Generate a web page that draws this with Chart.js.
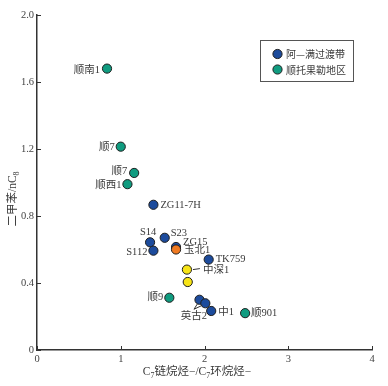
<!DOCTYPE html>
<html><head><meta charset="utf-8">
<script src="https://cdn.jsdelivr.net/npm/chart.js@4/dist/chart.umd.min.js"></script>
<style>html,body{margin:0;padding:0;background:#fff}#wrap{width:388px;height:386px}</style>
</head><body><div id="wrap"><canvas id="c" width="388" height="386"></canvas></div>
<script>
// ---- data ----
const seriesNames = ['阿—满过渡带', '顺托果勒地区', '玉北', '中深'];
const blueX = [1.39, 1.35, 1.525, 1.39, 1.66, 2.05, 1.94, 2.01, 2.08];
const blueY = [0.867, 0.643, 0.67, 0.593, 0.615, 0.54, 0.30, 0.279, 0.233];
const blueLabels = ['ZG11-7H', 'S14', 'S23', 'S112', 'ZG15', 'TK759', '', '', '中1'];
const tealX = [0.836, 1.0, 1.16, 1.08, 1.58, 2.485];
const tealY = [1.68, 1.214, 1.057, 0.99, 0.312, 0.22];
const tealLabels = ['顺南1', '顺7', '顺7', '顺西1', '顺9', '顺901'];
const orangeX = [1.66];
const orangeY = [0.60];
const orangeLabels = ['玉北1'];
const yellowX = [1.79, 1.80];
const yellowY = [0.48, 0.406];
const yellowLabels = ['中深1', ''];
const xTicks = [0, 1, 2, 3, 4];
const yTicks = [0, 0.4, 0.8, 1.2, 1.6, 2.0];
const yTickLabels = ['0', '0.4', '0.8', '1.2', '1.6', '2.0'];
const groupLabel = '英古2'; // shared label for blue points 7 and 8

// ---- label layout (pixel offsets, align) ----
const blueLayout = [[7,0,'left'],[-2,-10,'center'],[6,-5,'left'],[-6,2,'right'],[7,-5,'left'],[7,0,'left'],null,null,[7,1.5,'left']];
const tealLayout = [[-7,2,'right'],[-6,1,'right'],[-7,-2,'right'],[-6,1.5,'right'],[-6,0,'right'],[6,0,'left']];
const orangeLayout = [[8,1,'left']];
const yellowLayout = [[16,1,'left'], null];

const pts = (xs, ys) => xs.map((x, i) => ({x, y: ys[i]}));
const FONT = "'Liberation Serif','Noto Sans CJK SC',serif";
const TXT = '#3a3a3a';

const datasets = [
  {label: seriesNames[0], data: pts(blueX, blueY), backgroundColor: '#1c4b9c', labels: blueLabels, layout: blueLayout},
  {label: seriesNames[1], data: pts(tealX, tealY), backgroundColor: '#109c80', labels: tealLabels, layout: tealLayout},
  {label: seriesNames[2], data: pts(orangeX, orangeY), backgroundColor: '#f07a22', labels: orangeLabels, layout: orangeLayout},
  {label: seriesNames[3], data: pts(yellowX, yellowY), backgroundColor: '#f7e416', labels: yellowLabels, layout: yellowLayout}
].map(d => Object.assign(d, {pointRadius: 4.6, pointHoverRadius: 4.6, borderColor: '#1e1e1e', borderWidth: 1}));
// draw order: orange on top of blue
datasets.forEach((d, i) => d.order = [3, 2, 1, 0][i]);

const annot = {
  id: 'annot',
  afterDatasetsDraw(chart) {
    const ctx = chart.ctx;
    const xs = chart.scales.x, ys = chart.scales.y;
    ctx.save();
    // inner tick marks
    ctx.strokeStyle = '#333'; ctx.lineWidth = 1;
    xTicks.forEach(v => { const px = Math.round(xs.getPixelForValue(v)) + 0.5;
      ctx.beginPath(); ctx.moveTo(px, ys.bottom); ctx.lineTo(px, ys.bottom - 4); ctx.stroke(); });
    yTicks.forEach(v => { const py = Math.round(ys.getPixelForValue(v)) + 0.5;
      ctx.beginPath(); ctx.moveTo(xs.left, py); ctx.lineTo(xs.left + 4, py); ctx.stroke(); });
    // point labels
    ctx.font = '10.5px ' + FONT; ctx.fillStyle = TXT; ctx.textBaseline = 'middle';
    chart.data.datasets.forEach((ds, di) => {
      const meta = chart.getDatasetMeta(di);
      ds.labels.forEach((t, i) => {
        const L = ds.layout[i]; if (!t || !L) return;
        const el = meta.data[i];
        ctx.textAlign = L[2];
        ctx.fillText(t, el.x + L[0], el.y + L[1]);
      });
    });
    // leader for 中深1
    const y0 = chart.getDatasetMeta(3).data[0];
    ctx.strokeStyle = '#333'; ctx.lineWidth = 1;
    ctx.beginPath(); ctx.moveTo(y0.x + 6, y0.y); ctx.lineTo(y0.x + 13, y0.y - 1); ctx.stroke();
    // 英古2 group label with two leader lines
    const bm = chart.getDatasetMeta(0).data;
    const a = bm[6], b = bm[7];
    const lx = a.x - 5.5, ly = a.y + 16.5;
    ctx.beginPath(); ctx.moveTo(lx, ly - 7); ctx.lineTo(a.x - 2, a.y + 4);
    ctx.moveTo(lx, ly - 7); ctx.lineTo(b.x - 3, b.y + 2); ctx.stroke();
    ctx.textAlign = 'center'; ctx.fillText(groupLabel, lx, ly);
    // legend box
    const bx = 260.5, by = 40.5, bw = 93, bh = 41;
    ctx.strokeStyle = '#555'; ctx.lineWidth = 1; ctx.strokeRect(bx, by, bw, bh);
    [0, 1].forEach(k => {
      const ds = chart.data.datasets[k];
      const cy = by + 13.5 + k * 15.5;
      ctx.beginPath(); ctx.arc(bx + 17, cy, 4.6, 0, Math.PI * 2);
      ctx.fillStyle = ds.backgroundColor; ctx.fill(); ctx.strokeStyle = '#1e1e1e'; ctx.stroke();
      ctx.fillStyle = TXT; ctx.textAlign = 'left'; ctx.font = "10px 'Noto Sans CJK SC',serif";
      ctx.fillText(ds.label, bx + 25.5, cy + 0.5);
    });
    // axis titles with subscripts
    const drawSub = (parts, x, y, align) => {
      let w = 0;
      parts.forEach(p => { ctx.font = (p[1] ? '8px ' : '11.5px ') + FONT; w += ctx.measureText(p[0]).width; });
      let cx = align === 'center' ? x - w / 2 : x;
      ctx.textAlign = 'left';
      parts.forEach(p => { ctx.font = (p[1] ? '8px ' : '11.5px ') + FONT;
        ctx.fillText(p[0], cx, y + (p[1] ? 3.5 : 0)); cx += ctx.measureText(p[0]).width; });
    };
    ctx.fillStyle = TXT; ctx.textBaseline = 'middle';
    drawSub([['C',0],['7',1],['链烷烃−/C',0],['7',1],['环烷烃−',0]], 197, 372, 'center');
    ctx.translate(13, 199); ctx.rotate(-Math.PI / 2);
    drawSub([['二甲苯/',0],['n',0],['C',0],['8',1]], 0, 0, 'center');
    ctx.restore();
  }
};

new Chart(document.getElementById('c'), {
  type: 'scatter',
  data: {datasets},
  options: {
    responsive: false, animation: false, devicePixelRatio: 1,
    layout: {padding: {left: 0, top: 15, right: 16, bottom: 0}},
    plugins: {legend: {display: false}, tooltip: {enabled: false}},
    scales: {
      x: {type: 'linear', min: 0, max: 4,
        afterBuildTicks: s => { s.ticks = xTicks.map(v => ({value: v})); },
        afterFit: s => { s.height = 36; },
        grid: {display: false, drawTicks: false},
        border: {display: true, color: '#333', width: 1.5},
        ticks: {padding: 3, color: '#444', font: {family: FONT, size: 10.5}, callback: v => String(v)}},
      y: {type: 'linear', min: 0, max: 2,
        afterBuildTicks: s => { s.ticks = yTicks.map(v => ({value: v})); },
        afterFit: s => { s.width = 37; },
        grid: {display: false, drawTicks: false},
        border: {display: true, color: '#333', width: 1.5},
        ticks: {padding: 3, color: '#444', font: {family: FONT, size: 10.5},
          callback: (v) => { const i = yTicks.findIndex(t => Math.abs(t - v) < 1e-9); return i >= 0 ? yTickLabels[i] : ''; }}}
    }
  },
  plugins: [annot]
});
</script></body></html>
